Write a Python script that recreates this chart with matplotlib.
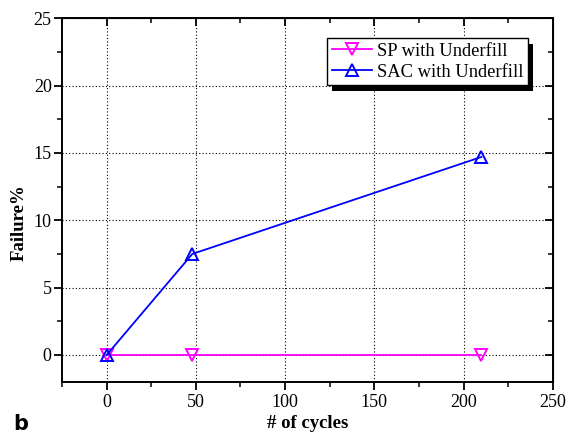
import matplotlib
matplotlib.use("Agg")
import matplotlib.pyplot as plt
import matplotlib.patheffects as pe
from matplotlib.ticker import MultipleLocator

plt.rcParams["font.family"] = ["Liberation Serif", "DejaVu Serif"]

# data
cycles = [0, 48, 210]
sp_failure = [0, 0, 0]
sac_failure = [0, 7.5, 14.7]

fig = plt.figure(figsize=(5.8, 4.34), dpi=100)
ax = fig.add_axes([0.107, 0.12, 0.846, 0.838])

ax.plot(cycles, sp_failure, color="#ff00ff", lw=1.3, marker="v", ms=8,
        mfc="none", mec="#ff00ff", mew=1.4, label="SP with Underfill")
ax.plot(cycles, sac_failure, color="#0000ff", lw=1.3, marker="^", ms=8,
        mfc="none", mec="#0000ff", mew=1.4, label="SAC with Underfill")

ax.set_xlim(-25, 250)
ax.set_ylim(-2, 25)
ax.xaxis.set_major_locator(MultipleLocator(50))
ax.xaxis.set_minor_locator(MultipleLocator(25))
ax.yaxis.set_major_locator(MultipleLocator(5))
ax.yaxis.set_minor_locator(MultipleLocator(2.5))
ax.grid(True, which="major", color="black", ls=(0, (1, 2)), lw=0.8)

for s in ax.spines.values():
    s.set_linewidth(1.4)
ax.tick_params(which="major", direction="out", length=5.5, width=1.3,
               labelsize=13)
ax.tick_params(axis="y", which="major", pad=2)
ax.tick_params(axis="x", which="major", pad=3)
ax.tick_params(which="minor", direction="out", length=3.5, width=1.1)

# inward ticks on top and right, no labels
top = ax.secondary_xaxis("top")
top.xaxis.set_major_locator(MultipleLocator(50))
top.xaxis.set_minor_locator(MultipleLocator(25))
top.tick_params(which="major", direction="in", length=5.5, width=1.3, labeltop=False)
top.tick_params(which="minor", direction="in", length=3.5, width=1.1)
right = ax.secondary_yaxis("right")
right.yaxis.set_major_locator(MultipleLocator(5))
right.yaxis.set_minor_locator(MultipleLocator(2.5))
right.tick_params(which="major", direction="in", length=5.5, width=1.3, labelright=False)
right.tick_params(which="minor", direction="in", length=3.5, width=1.1)

ax.set_xlabel("# of cycles", fontsize=13.5, fontweight="bold", labelpad=3)
ax.set_ylabel("Failure%", fontsize=13.5, fontweight="bold")
ax.yaxis.set_label_coords(-0.071, 0.437)

leg = ax.legend(loc="upper right", bbox_to_anchor=(0.95, 0.945), borderaxespad=0,
                fontsize=13.3, frameon=True, fancybox=False, framealpha=1,
                edgecolor="black", handlelength=2.15, borderpad=0.25,
                labelspacing=0.2, handletextpad=0.3)
leg.get_frame().set_linewidth(1.0)
leg.get_frame().set_path_effects([
    pe.SimplePatchShadow(offset=(3.5, -4.5), shadow_rgbFace="black", alpha=1),
    pe.Normal(),
])

fig.text(0.022, 0.009, "b", fontsize=15, fontweight="bold", family="DejaVu Sans")

fig.savefig("out.png", dpi=100)
